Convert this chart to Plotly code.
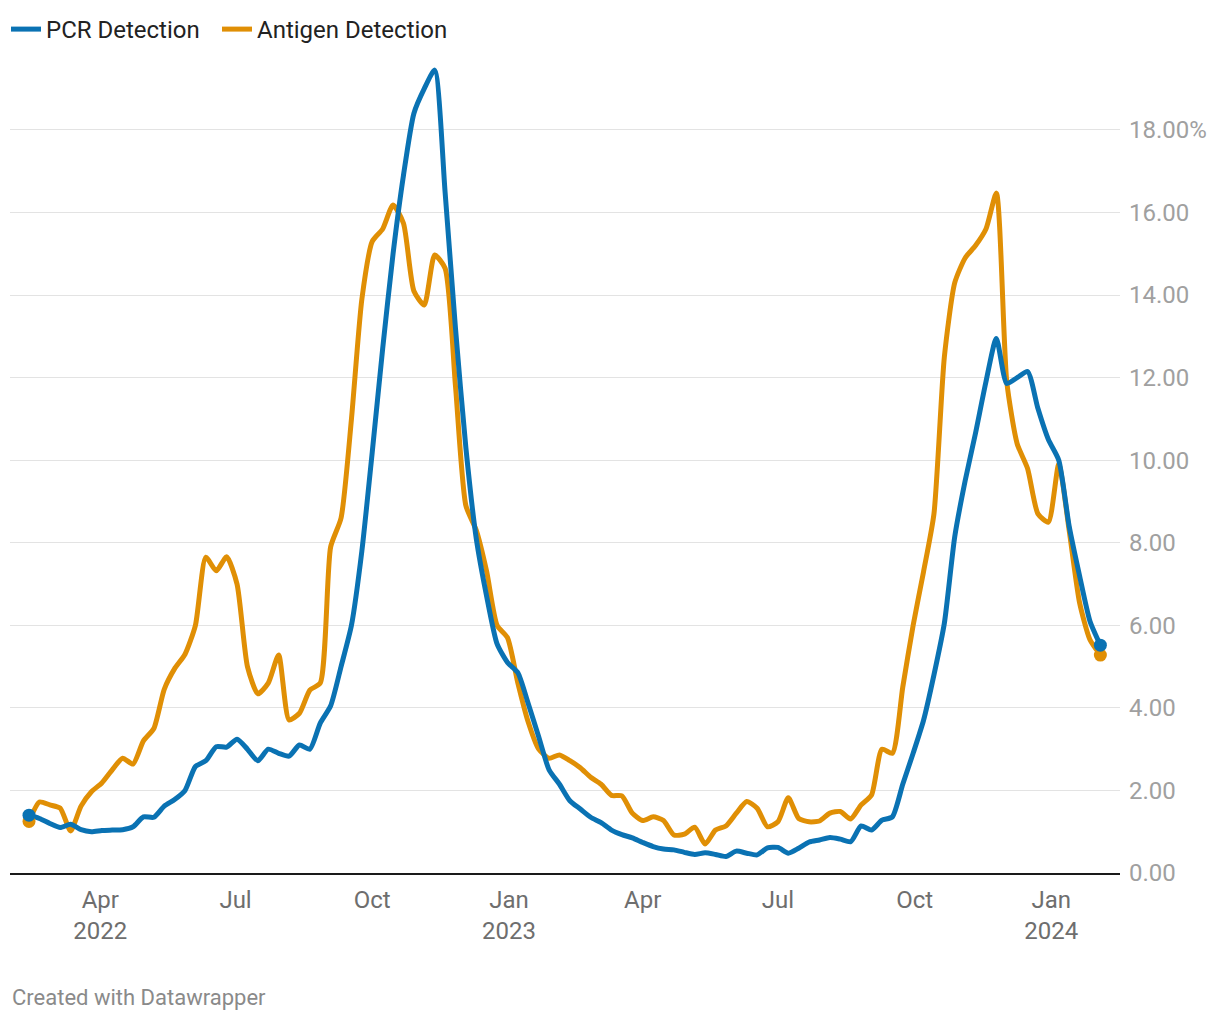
import pandas as pd
import plotly.graph_objects as go

# ---- data ----
start_date = "2022-02-12"
n_weeks = 104
dates = pd.date_range(start_date, periods=n_weeks, freq="7D")

pcr = [1.40, 1.32, 1.20, 1.10, 1.18, 1.05, 1.00, 1.03, 1.04, 1.05,
       1.12, 1.36, 1.35, 1.62, 1.78, 2.00, 2.58, 2.72, 3.06, 3.05,
       3.24, 3.00, 2.72, 3.00, 2.90, 2.83, 3.10, 3.00, 3.63, 4.05,
       5.00, 6.00, 7.80, 10.20, 12.70, 15.00, 16.90, 18.40, 19.00, 19.45,
       16.50, 13.20, 10.30, 8.10, 6.70, 5.55, 5.10, 4.85, 4.10, 3.30,
       2.50, 2.15, 1.75, 1.55, 1.35, 1.22, 1.04, 0.93, 0.85, 0.74,
       0.64, 0.58, 0.56, 0.50, 0.45, 0.49, 0.45, 0.40, 0.53, 0.48,
       0.44, 0.61, 0.62, 0.48, 0.60, 0.75, 0.80, 0.86, 0.82, 0.76,
       1.14, 1.04, 1.28, 1.36, 2.15, 2.90, 3.70, 4.80, 6.05, 8.15,
       9.50, 10.66, 11.90, 12.95, 11.86, 12.00, 12.15, 11.25, 10.50, 10.00,
       8.40, 7.20, 6.10, 5.52]

antigen = [1.25, 1.72, 1.65, 1.57, 1.02, 1.62, 1.97, 2.18, 2.50, 2.78,
           2.64, 3.20, 3.50, 4.45, 4.95, 5.30, 6.00, 7.65, 7.32, 7.66,
           7.00, 5.00, 4.34, 4.60, 5.28, 3.71, 3.87, 4.43, 4.60, 7.90,
           8.60, 11.00, 13.90, 15.30, 15.60, 16.18, 15.74, 14.10, 13.76, 14.97,
           14.65, 11.80, 8.90, 8.30, 7.30, 6.00, 5.70, 4.60, 3.65, 3.00,
           2.78, 2.86, 2.72, 2.55, 2.32, 2.15, 1.88, 1.87, 1.45, 1.27,
           1.36, 1.27, 0.92, 0.94, 1.11, 0.70, 1.04, 1.14, 1.45, 1.73,
           1.57, 1.12, 1.24, 1.82, 1.32, 1.24, 1.26, 1.45, 1.49, 1.31,
           1.65, 1.89, 3.00, 2.90, 4.50, 6.00, 7.30, 8.70, 12.50, 14.30,
           14.90, 15.20, 15.60, 16.47, 11.90, 10.40, 9.80, 8.70, 8.50, 9.90,
           8.30, 6.55, 5.65, 5.28]

y_ticks = [0, 2, 4, 6, 8, 10, 12, 14, 16, 18]
y_ticktext = ["0.00", "2.00", "4.00", "6.00", "8.00", "10.00", "12.00",
              "14.00", "16.00", "18.00%"]
x_ticks = ["2022-04-01", "2022-07-01", "2022-10-01", "2023-01-01",
           "2023-04-01", "2023-07-01", "2023-10-01", "2024-01-01"]
x_ticktext = ["Apr<br>2022", "Jul", "Oct", "Jan<br>2023",
              "Apr", "Jul", "Oct", "Jan<br>2024"]

BLUE = "#0a72b3"
ORANGE = "#e08f05"

fig = go.Figure()
fig.add_trace(go.Scatter(
    x=dates, y=antigen, name="Antigen Detection", mode="lines",
    line=dict(color=ORANGE, width=5, shape="spline", smoothing=0.6),
    legend="legend2",
))
fig.add_trace(go.Scatter(
    x=dates, y=pcr, name="PCR Detection", mode="lines",
    line=dict(color=BLUE, width=5, shape="spline", smoothing=0.6),
    legend="legend",
))
# end-point dots
fig.add_trace(go.Scatter(
    x=[dates[0], dates[-1]], y=[antigen[0], antigen[-1]], mode="markers",
    marker=dict(color=ORANGE, size=13, opacity=1, line=dict(width=0)),
    showlegend=False, hoverinfo="skip",
))
fig.add_trace(go.Scatter(
    x=[dates[0], dates[-1]], y=[pcr[0], pcr[-1]], mode="markers",
    marker=dict(color=BLUE, size=13, opacity=1, line=dict(width=0)),
    showlegend=False, hoverinfo="skip",
))

# the page body adds an 8px margin, so the figure is 8px smaller
W, H = 1212, 1012
ml, mr, mt, mb = 2, 100, 42, 147
plot_w = W - ml - mr
plot_h = H - mt - mb

legend_common = dict(
    orientation="h", xanchor="left", y=1 + 43 / plot_h, yanchor="top",
    font=dict(size=24, color="#222222"),
    bgcolor="rgba(0,0,0,0)", itemclick=False, itemdoubleclick=False,
)

fig.update_layout(
    width=W, height=H,
    margin=dict(l=ml, r=mr, t=mt, b=mb, autoexpand=False),
    paper_bgcolor="white", plot_bgcolor="white",
    font=dict(family="Roboto", size=20, color="#333333"),
    showlegend=True,
    legend=dict(x=-4 / plot_w, **legend_common),
    legend2=dict(x=207 / plot_w, **legend_common),
    xaxis=dict(
        type="date",
        range=["2022-01-30 05:00", "2024-02-16 05:00"],
        tickvals=x_ticks, ticktext=x_ticktext,
        showgrid=False, zeroline=False, automargin=False,
        showline=True, linecolor="#1a1a1a", linewidth=2,
        ticks="", tickfont=dict(size=24, color="#6e6e6e"),
        ticklabelstandoff=4,
    ),
    yaxis=dict(
        side="right",
        range=[0, plot_h / 41.28],
        tickvals=y_ticks, ticktext=y_ticktext,
        showgrid=True, gridcolor="#e3e3e3", gridwidth=1,
        zeroline=False, showline=False, automargin=False,
        ticks="", tickfont=dict(size=24, color="#a0a0a0"),
        ticklabelstandoff=8,
    ),
    annotations=[dict(
        text="Created with Datawrapper", x=0, xref="paper",
        y=-(989 - (H - mb)) / plot_h, yref="paper",
        xanchor="left", yanchor="middle", showarrow=False,
        font=dict(size=22, color="#8a8a8a"),
    )],
)

fig.write_html("out.html")
